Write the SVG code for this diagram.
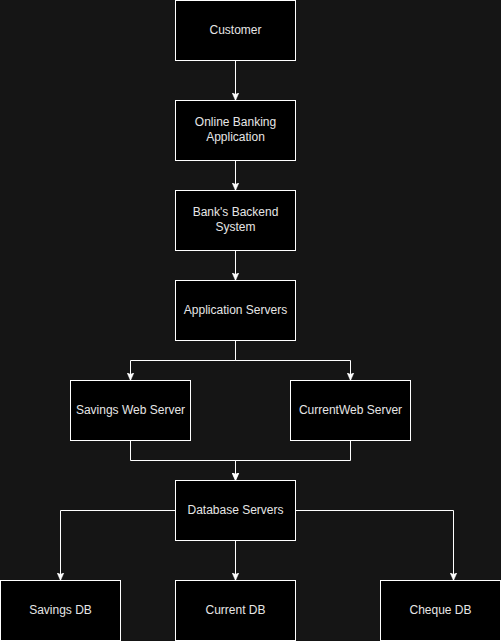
<svg xmlns="http://www.w3.org/2000/svg" width="501" height="641" viewBox="0 0 501 641">
<defs>
<style>
.node rect{fill:#000000;stroke:#ffffff;stroke-width:1}
.node text{fill:#e6e6e6;font-family:"Liberation Sans",Arial,sans-serif;font-size:12px;text-anchor:middle;dominant-baseline:central}
.edge{fill:none;stroke:#ffffff;stroke-width:1}
</style>
<marker id="arrow" viewBox="0 0 8 8" refX="7.5" refY="4" markerWidth="8" markerHeight="8" markerUnits="userSpaceOnUse" orient="auto">
<path d="M0,0.5 L8,4 L0,7.5 L2,4 Z" fill="#ffffff" stroke="#ffffff" stroke-width="0.5"/>
</marker>
</defs>
<rect x="0" y="0" width="501" height="641" fill="#151515"/>
<g id="connectors">
<path class="edge" d="M235.5,60.5 L235.5,100" marker-end="url(#arrow)"/>
<path class="edge" d="M235.5,160.5 L235.5,190" marker-end="url(#arrow)"/>
<path class="edge" d="M235.5,250.5 L235.5,280" marker-end="url(#arrow)"/>
<path class="edge" d="M235.5,340.5 L235.5,360.5 L130.5,360.5 L130.5,380" marker-end="url(#arrow)"/>
<path class="edge" d="M235.5,340.5 L235.5,360.5 L350.5,360.5 L350.5,380" marker-end="url(#arrow)"/>
<path class="edge" d="M130.5,440.5 L130.5,460.5 L235.5,460.5 L235.5,480" marker-end="url(#arrow)"/>
<path class="edge" d="M350.5,440.5 L350.5,460.5 L235.5,460.5 L235.5,480" marker-end="url(#arrow)"/>
<path class="edge" d="M175.5,510.5 L60.5,510.5 L60.5,580" marker-end="url(#arrow)"/>
<path class="edge" d="M235.5,540.5 L235.5,580" marker-end="url(#arrow)"/>
<path class="edge" d="M295.5,510.5 L453.5,510.5 L453.5,580" marker-end="url(#arrow)"/>
</g>
<g id="customer" class="node"><rect x="175.5" y="0.5" width="120" height="60"/><text x="235.5" y="29.5">Customer</text></g>
<g id="online-banking" class="node"><rect x="175.5" y="100.5" width="120" height="60"/><text x="235.5" y="122">Online Banking</text><text x="235.5" y="137">Application</text></g>
<g id="backend" class="node"><rect x="175.5" y="190.5" width="120" height="60"/><text x="235.5" y="212">Bank's Backend</text><text x="235.5" y="227">System</text></g>
<g id="app-servers" class="node"><rect x="175.5" y="280.5" width="120" height="60"/><text x="235.5" y="309.5">Application Servers</text></g>
<g id="savings-web" class="node"><rect x="70.5" y="380.5" width="120" height="60"/><text x="130.5" y="409.5">Savings Web Server</text></g>
<g id="current-web" class="node"><rect x="290.5" y="380.5" width="120" height="60"/><text x="350.5" y="409.5">CurrentWeb Server</text></g>
<g id="db-servers" class="node"><rect x="175.5" y="480.5" width="120" height="60"/><text x="235.5" y="509.5">Database Servers</text></g>
<g id="savings-db" class="node"><rect x="0.5" y="580.5" width="120" height="60"/><text x="60.5" y="609.5">Savings DB</text></g>
<g id="current-db" class="node"><rect x="175.5" y="580.5" width="120" height="60"/><text x="235.5" y="609.5">Current DB</text></g>
<g id="cheque-db" class="node"><rect x="380.5" y="580.5" width="120" height="60"/><text x="440.5" y="609.5">Cheque DB</text></g>
</svg>
